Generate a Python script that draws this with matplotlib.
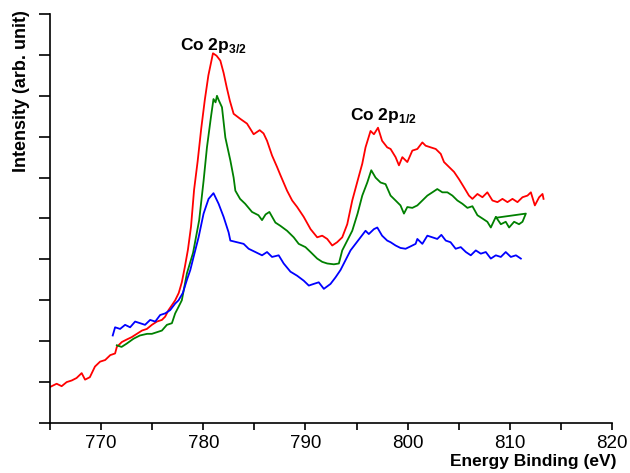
import matplotlib
matplotlib.use("Agg")
import matplotlib.pyplot as plt
from matplotlib.ticker import MultipleLocator

plt.rcParams['font.family'] = ['Liberation Sans', 'DejaVu Sans']
plt.rcParams['mathtext.fontset'] = 'custom'
plt.rcParams['mathtext.bf'] = 'Liberation Sans:bold'
plt.rcParams['mathtext.rm'] = 'Liberation Sans:bold'

# Red spectrum
red_x = [765.0, 765.65, 766.14, 766.63, 767.13, 767.6, 768.1, 768.43, 768.9, 769.4, 769.9, 770.4,
         770.9, 771.37, 771.54, 772.03, 772.5, 773.0, 773.5, 774.0, 774.48, 774.97, 775.46, 775.95,
         776.27, 776.6, 776.93, 777.25, 777.6, 777.9, 778.2, 778.5, 778.8, 779.1, 779.45, 779.8,
         780.15, 780.5, 780.95, 781.3, 781.67, 781.99, 782.3, 782.6, 782.97, 783.6, 784.28, 784.93,
         785.52, 785.9, 786.24, 786.73, 787.22, 787.55, 788.2, 788.7, 789.19, 789.83, 790.5, 791.15,
         791.64, 792.13, 792.62, 793.1, 793.6, 794.09, 794.58, 795.1, 795.56, 795.88, 796.37, 796.7,
         797.1, 797.5, 798.0, 798.33, 798.82, 799.15, 799.48, 799.97, 800.46, 800.95, 801.44, 801.76,
         802.25, 802.75, 803.24, 803.56, 804.05, 804.54, 805.03, 805.52, 806.0, 806.34, 806.83,
         807.32, 807.8, 808.3, 808.79, 809.28, 809.77, 810.26, 810.75, 811.24, 811.73, 812.06,
         812.45, 812.87, 813.2, 813.3]
red_y = [0.44, 0.48, 0.45, 0.50, 0.52, 0.55, 0.61, 0.53, 0.56, 0.69, 0.75, 0.77,
         0.83, 0.85, 0.93, 0.99, 1.02, 1.05, 1.09, 1.13, 1.15, 1.20, 1.24, 1.26,
         1.30, 1.38, 1.44, 1.50, 1.59, 1.72, 1.91, 2.12, 2.40, 2.85, 3.20, 3.60,
         3.95, 4.25, 4.52, 4.49, 4.43, 4.28, 4.10, 3.94, 3.78, 3.72, 3.66, 3.53,
         3.58, 3.54, 3.45, 3.27, 3.13, 3.03, 2.84, 2.72, 2.64, 2.52, 2.37, 2.27,
         2.29, 2.25, 2.17, 2.21, 2.27, 2.43, 2.72, 2.96, 3.17, 3.37, 3.57, 3.53,
         3.61, 3.45, 3.37, 3.35, 3.25, 3.15, 3.25, 3.19, 3.33, 3.35, 3.43, 3.39,
         3.37, 3.35, 3.29, 3.19, 3.13, 3.07, 2.98, 2.88, 2.78, 2.74, 2.80,
         2.76, 2.82, 2.72, 2.70, 2.74, 2.70, 2.74, 2.70, 2.76, 2.78, 2.82,
         2.66, 2.76, 2.80, 2.74]

# Green spectrum (the trace ends by jumping back, as in the original)
green_x = [771.54, 772.0, 772.5, 773.17, 773.8, 774.5, 774.97, 775.46, 775.95, 776.44, 776.93,
           777.25, 777.58, 777.9, 778.4, 779.0, 779.6, 780.03, 780.36, 780.75, 781.0, 781.2,
           781.34, 781.5, 781.83, 782.16, 782.65, 782.97, 783.14, 783.6, 784.1, 784.77, 785.4,
           785.75, 786.1, 786.47, 787.06, 787.55, 788.2, 788.85, 789.34, 790.0, 790.5, 791.15,
           791.64, 792.13, 792.78, 793.27, 793.6, 794.09, 794.58, 795.1, 795.56, 796.05, 796.44,
           796.86, 797.35, 797.84, 798.33, 798.82, 799.3, 799.64, 799.97, 800.46, 800.95, 801.44,
           801.93, 802.42, 802.9, 803.4, 803.89, 804.38, 804.87, 805.36, 805.85, 806.34, 806.83,
           807.32, 807.8, 808.14, 808.63, 809.12, 809.6, 809.93, 810.42, 810.9, 811.24, 811.57,
           808.7]
green_y = [0.95, 0.93, 0.97, 1.03, 1.07, 1.09, 1.09, 1.11, 1.13, 1.20, 1.22,
           1.34, 1.42, 1.50, 1.83, 2.08, 2.48, 2.96, 3.37, 3.74, 3.96, 3.92,
           4.00, 3.95, 3.86, 3.49, 3.21, 3.00, 2.84, 2.74, 2.68, 2.58, 2.54,
           2.48, 2.55, 2.58, 2.45, 2.41, 2.35, 2.27, 2.19, 2.15, 2.09, 2.01,
           1.97, 1.95, 1.94, 1.95, 2.11, 2.23, 2.35, 2.56, 2.78, 2.94, 3.09,
           3.00, 2.94, 2.92, 2.78, 2.72, 2.66, 2.56, 2.64, 2.63, 2.66, 2.72,
           2.78, 2.82, 2.86, 2.82, 2.82, 2.78, 2.72, 2.68, 2.63, 2.65, 2.54,
           2.50, 2.46, 2.39, 2.52, 2.43, 2.46, 2.39, 2.46, 2.43, 2.46, 2.56,
           2.51]

# Blue spectrum
blue_x = [771.14, 771.37, 771.86, 772.35, 772.84, 773.33, 773.82, 774.3, 774.8, 775.3, 775.78,
          776.27, 776.76, 777.25, 777.58, 778.0, 778.4, 778.73, 779.05, 779.54, 780.03, 780.52,
          781.0, 781.5, 781.99, 782.48, 782.65, 783.3, 783.95, 784.44, 785.1, 785.75, 786.24,
          786.73, 787.38, 787.87, 788.53, 789.19, 789.83, 790.33, 790.8, 791.3, 791.8, 792.45,
          792.94, 793.43, 793.92, 794.41, 794.9, 795.39, 795.88, 796.2, 796.7, 797.03, 797.5,
          798.0, 798.33, 798.82, 799.3, 799.8, 800.3, 800.78, 800.95, 801.44, 801.93, 802.42,
          802.9, 803.3, 803.73, 804.2, 804.7, 805.2, 805.7, 806.18, 806.67, 807.16, 807.65,
          808.14, 808.63, 809.12, 809.6, 810.1, 810.6, 811.08]
blue_y = [1.07, 1.17, 1.15, 1.20, 1.17, 1.24, 1.22, 1.20, 1.26, 1.24, 1.32,
          1.34, 1.38, 1.46, 1.50, 1.59, 1.75, 1.87, 2.03, 2.27, 2.56, 2.74,
          2.81, 2.68, 2.52, 2.33, 2.23, 2.21, 2.19, 2.13, 2.09, 2.05, 2.09,
          2.03, 2.05, 1.95, 1.85, 1.80, 1.74, 1.68, 1.70, 1.72, 1.64, 1.70,
          1.78, 1.87, 1.99, 2.11, 2.19, 2.27, 2.35, 2.31, 2.37, 2.39, 2.29,
          2.23, 2.21, 2.17, 2.14, 2.13, 2.16, 2.19, 2.25, 2.19, 2.29, 2.27,
          2.25, 2.30, 2.23, 2.21, 2.13, 2.15, 2.09, 2.05, 2.11, 2.07, 2.09,
          2.01, 2.05, 2.03, 2.09, 2.03, 2.05, 2.01]

fig = plt.figure(figsize=(6.3, 4.73), dpi=100)
ax = fig.add_axes([50/630, 1-423/473, (612-50)/630, (423-14)/473])

ax.plot(red_x, red_y, color='#ff0000', lw=1.3)
ax.plot(green_x, green_y, color='#008000', lw=1.3)
ax.plot(blue_x, blue_y, color='#0000ff', lw=1.3)

ax.set_xlim(765, 820)
ax.set_ylim(0, 5)
ax.xaxis.set_major_locator(MultipleLocator(10))
ax.xaxis.set_minor_locator(MultipleLocator(5))
ax.yaxis.set_major_locator(MultipleLocator(1))
ax.yaxis.set_minor_locator(MultipleLocator(0.5))
ax.yaxis.set_tick_params(which='both', length=8, width=1.2, labelleft=False)
ax.xaxis.set_tick_params(which='both', length=5, width=1.2, labelsize=13.5)
for s in ['top', 'right']:
    ax.spines[s].set_visible(False)
for s in ['left', 'bottom']:
    ax.spines[s].set_linewidth(1.2)

ax.text(777.7, 4.62, r'Co 2p$_{3/2}$', fontsize=12.5, fontweight='bold', va='center', ha='left')
ax.text(794.4, 3.76, r'Co 2p$_{1/2}$', fontsize=12.5, fontweight='bold', va='center', ha='left')

fig.text(617/630, 4/473, 'Energy Binding (eV)', fontsize=12.5, fontweight='bold',
         ha='right', va='bottom')
fig.text(22/630, 1-10/473, 'Intensity (arb. unit)', fontsize=13, fontweight='bold',
         rotation=90, ha='center', va='top')

fig.savefig('out.png', dpi=100)
